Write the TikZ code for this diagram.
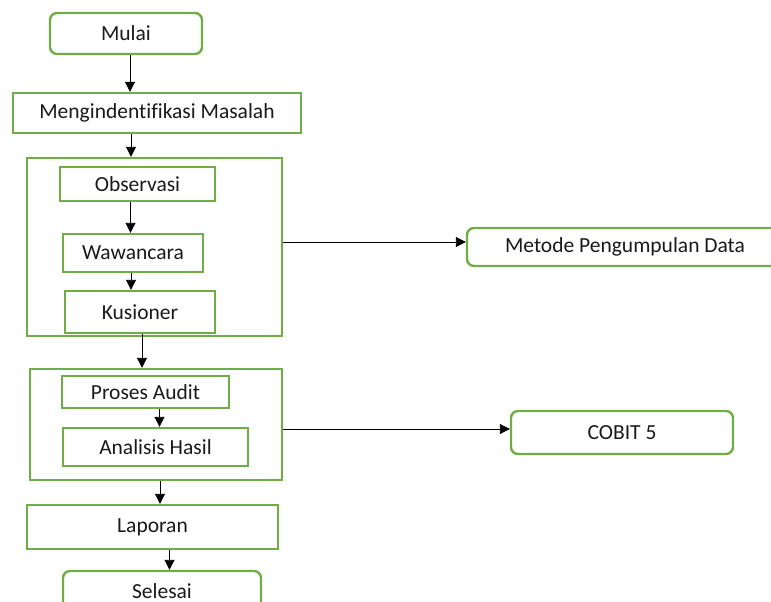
\documentclass[tikz,border=0pt]{standalone}
\usepackage{fontspec}
\setmainfont[Ligatures=NoCommon]{Carlito}
\usetikzlibrary{positioning,calc,arrows.meta}
\definecolor{boxgreen}{RGB}{112,173,71}

\begin{document}
\begin{tikzpicture}[x=1pt, y=-1pt,
    every node/.style={font=\fontsize{21.5}{25}\selectfont, text=black!90, inner sep=0pt},
    box/.style={rectangle, draw=boxgreen, line width=2.4pt, align=center},
    rbox/.style={box, rounded corners=7pt},
    grp/.style={rectangle, draw=boxgreen, line width=2.4pt},
    arr/.style={-{Triangle[length=10pt, width=10pt]}, line width=0.9pt, black}]
    \useasboundingbox (0,0) rectangle (771,602);

    \node [rbox, minimum width=152pt, minimum height=41pt] (mulai) at (126,33.5) {Mulai};
    \node [box, minimum width=288pt, minimum height=40pt] (masalah) at (157,113) {Mengindentifikasi Masalah};

    \node [grp, minimum width=255pt, minimum height=178pt] (grp1) at (154.5,247) {};
    \node [box, minimum width=155pt, minimum height=34pt] (obs) at (137.5,184) {Observasi};
    \node [box, minimum width=140pt, minimum height=38pt] (waw) at (133,253) {Wawancara};
    \node [box, minimum width=150pt, minimum height=42pt] (kus) at (140,312) {Kusioner};
    \node [rbox, minimum width=316pt, minimum height=38pt] (metode) at (625,247) {Metode Pengumpulan Data};

    \node [grp, minimum width=252pt, minimum height=111pt] (grp2) at (156,424.5) {};
    \node [box, minimum width=167pt, minimum height=32pt] (proses) at (145.5,392) {Proses Audit};
    \node [box, minimum width=185pt, minimum height=38pt] (analisis) at (155.5,447) {Analisis Hasil};
    \node [rbox, minimum width=222pt, minimum height=43pt] (cobit) at (622,432.5) {COBIT 5};

    \node [box, minimum width=251pt, minimum height=44pt] (laporan) at (152.5,527) {Laporan};
    \node [rbox, minimum width=198pt, minimum height=41pt] (selesai) at (162,591.5) {Selesai};

    \draw [arr] ([xshift=4pt]mulai.south) -- ([xshift=4pt]mulai.south |- masalah.north);
    \draw [arr] ([xshift=-26pt]masalah.south) -- ([xshift=-26pt]masalah.south |- grp1.north);
    \draw [arr] ([xshift=-7pt]obs.south) -- ([xshift=-7pt]obs.south |- waw.north);
    \draw [arr] ([xshift=-2pt]waw.south) -- ([xshift=-2pt]waw.south |- kus.north);
    \draw [arr] ([xshift=2pt]kus.south) -- ([xshift=2pt]kus.south |- grp2.north);
    \draw [arr] ([xshift=14pt]proses.south) -- ([xshift=14pt]proses.south |- analisis.north);
    \draw [arr] ([xshift=4pt]grp2.south) -- ([xshift=4pt]grp2.south |- laporan.north);
    \draw [arr] ([xshift=17pt]laporan.south) -- ([xshift=17pt]laporan.south |- selesai.north);
    \draw [arr] ([yshift=5pt]grp1.east) -- ([yshift=5pt]grp1.east -| metode.west);
    \draw [arr] ([yshift=3.5pt]cobit.west -| grp2.east) -- ([yshift=3.5pt]cobit.west);
\end{tikzpicture}
\end{document}
